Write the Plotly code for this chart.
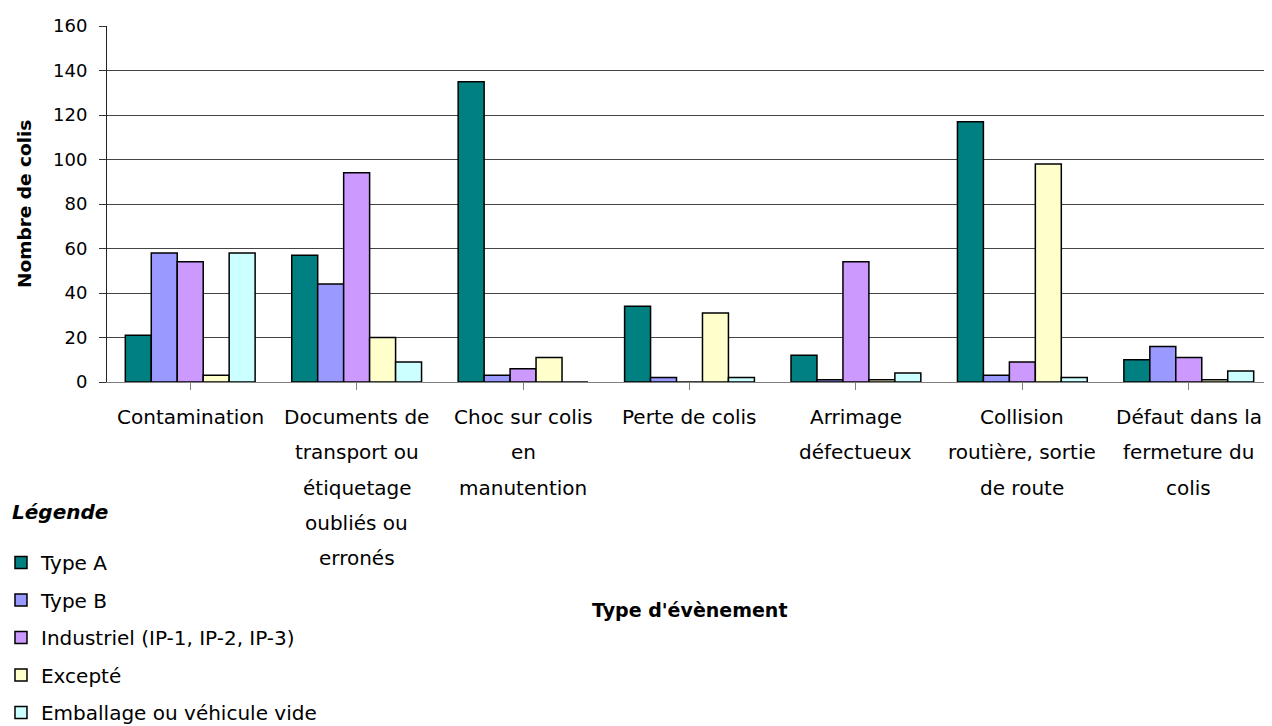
import plotly.graph_objects as go

categories = [["Contamination"],
              ["Documents de", "transport ou", "étiquetage", "oubliés ou", "erronés"],
              ["Choc sur colis", "en", "manutention"],
              ["Perte de colis"],
              ["Arrimage", "défectueux"],
              ["Collision", "routière, sortie", "de route"],
              ["Défaut dans la", "fermeture du", "colis"]]

type_a = [21, 57, 135, 34, 12, 117, 10]
type_b = [58, 44, 3, 2, 1, 3, 16]
industriel = [54, 94, 6, 0, 54, 9, 11]
excepte = [3, 20, 11, 31, 1, 98, 1]
emballage = [58, 9, 0, 2, 4, 2, 5]

series_names = ["Type A", "Type B", "Industriel (IP-1, IP-2, IP-3)", "Excepté", "Emballage ou véhicule vide"]
series_values = [type_a, type_b, industriel, excepte, emballage]
colors = ["#008080", "#9999FF", "#CC99FF", "#FFFFCC", "#CCFFFF"]

y_ticks = [0, 20, 40, 60, 80, 100, 120, 140, 160]
x_title = "Type d'évènement"
y_title = "Nombre de colis"
legend_title = "Légende"

FONT = "DejaVu Sans"
LABEL_SIZE = 20
LINE_STEP = 35.3
FIRST_LINE = 35

x_pos = list(range(len(categories)))

fig = go.Figure()
for i, (name, vals, col) in enumerate(zip(series_names, series_values, colors)):
    fig.add_trace(go.Bar(
        x=x_pos, y=vals, name=name,
        marker=dict(color=col, line=dict(color="black", width=1.5)),
        legendgroup=f"g{i}",
    ))

annotations = []
for i, lines in enumerate(categories):
    for j, line in enumerate(lines):
        annotations.append(dict(
            x=i, xref="x", y=0, yref="paper", yanchor="middle", xanchor="center",
            yshift=-(FIRST_LINE + LINE_STEP * j), text=line, showarrow=False,
            font=dict(size=LABEL_SIZE, family=FONT, color="black"),
        ))

annotations.append(dict(
    x=0.5, xref="paper", y=-0.64, yref="paper", xanchor="center", yanchor="middle",
    text=f"<b>{x_title}</b>", showarrow=False, font=dict(size=19, family=FONT, color="black"),
))
annotations.append(dict(
    x=-0.0712, xref="paper", y=0.5, yref="paper", xanchor="center", yanchor="middle",
    text=f"<b>{y_title}</b>", textangle=-90, showarrow=False,
    font=dict(size=18.5, family=FONT, color="black"),
))
annotations.append(dict(
    x=-0.0833, xref="paper", y=-0.365, yref="paper", xanchor="left", yanchor="middle",
    text=f"<b><i>{legend_title}</i></b>", showarrow=False,
    font=dict(size=20, family=FONT, color="black"),
))

fig.update_layout(
    width=1264, height=718,
    margin=dict(l=99, r=0, t=18, b=344, autoexpand=False),
    plot_bgcolor="white", paper_bgcolor="white",
    barmode="group", bargap=0.22, bargroupgap=0,
    font=dict(family=FONT, size=18, color="black"),
    showlegend=True,
    legend=dict(
        x=-0.091, xanchor="left", y=-0.452, yanchor="top",
        font=dict(size=20, family=FONT),
        tracegroupgap=8.5,
        itemwidth=30,
        bgcolor="rgba(0,0,0,0)",
    ),
    annotations=annotations,
)

fig.update_xaxes(
    tickmode="array", tickvals=x_pos, ticktext=[""] * len(x_pos),
    range=[-0.5, len(x_pos) - 0.5],
    showline=True, linecolor="#808080", linewidth=1,
    ticks="outside", tickson="boundaries", ticklen=7, tickcolor="#808080",
    showgrid=False, showticklabels=False,
)

fig.update_yaxes(
    range=[0, 160], tickmode="array", tickvals=y_ticks,
    showline=True, linecolor="#222", linewidth=1,
    ticks="outside", ticklen=7, tickcolor="#333",
    ticklabelstandoff=8,
    showgrid=True, gridcolor="#444", gridwidth=1,
    zeroline=False,
    tickfont=dict(size=18, family=FONT),
)

fig.write_html("out.html")
